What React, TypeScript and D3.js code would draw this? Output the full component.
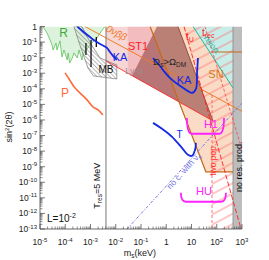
import React from 'react';
import * as d3 from 'd3';

type Pt = [number, number];

// axis ticks
const xDecades = [-5, -4, -3, -2, -1, 0, 1, 2, 3];
const yDecades = [0, -1, -2, -3, -4, -5, -6, -7, -8, -9, -10, -11, -12, -13];

// R (reactor) excluded region, lower edge
const rEdge: Pt[] = [
    [1.3e-5, 1], [1.9e-5, 0.38], [2.5e-5, 0.135], [3.0e-5, 0.065], [3.3e-5, 0.031],
    [4.3e-5, 0.087], [4.7e-5, 0.031], [6.2e-5, 0.12], [7.4e-5, 0.011], [8.9e-5, 0.031],
    [1.2e-4, 7.1e-3], [1.3e-4, 0.02], [1.5e-4, 4.6e-3], [1.9e-4, 9.5e-3], [2.2e-4, 0.02],
    [3.0e-4, 9.5e-3], [3.5e-4, 0.031], [4.6e-4, 7.1e-3], [5.0e-4, 0.015], [6.6e-4, 0.031],
    [7.9e-4, 0.042], [1.1e-3, 0.087], [1.8e-3, 0.18], [2.4e-3, 0.38], [3.7e-3, 1]
];
const mbRegion: Pt[] = [
    [2.2e-4, 1], [4.6e-4, 1], [1.1e-3, 0.065], [2.4e-3, 9.5e-3], [0.011, 3.4e-3],
    [0.011, 4.3e-4], [1.3e-3, 6.7e-4], [7.9e-4, 2.2e-3], [3.8e-4, 0.065]
];
// mass, low, high
const mbBars: [number, number, number][] = [
    [6.6e-4, 0.015, 0.087], [1.05e-3, 2.5e-3, 0.135], [1.7e-3, 0.049, 0.21]
];
const pCurve: Pt[] = [
    [9.8e-5, 1.05e-3], [1.5e-4, 3.7e-4], [2.4e-4, 1.15e-4], [3.8e-4, 5.5e-5],
    [7.3e-4, 1.95e-5], [1.25e-3, 6.9e-6], [2.0e-3, 4.5e-6], [3.1e-3, 2.1e-6]
];
const kaLow: Pt[] = [
    [3.0e-4, 1], [6.0e-4, 0.38], [9.5e-4, 0.21], [1.5e-3, 0.12], [2.4e-3, 0.076],
    [4.5e-3, 0.042], [5.9e-3, 0.023], [7.8e-3, 0.013], [0.011, 7.1e-3]
];
const kaHigh: Pt[] = [
    [0.30, 9.5e-3], [0.56, 2.9e-3], [1.4, 5e-4], [4.6, 1.15e-4], [10.5, 5.5e-5],
    [15, 1e-4], [16.6, 1.05e-3], [18, 9.5e-3]
];
const tCurve: Pt[] = [
    [0.30, 6.5e-7], [0.68, 2.7e-7], [1.7, 8.3e-8], [4.2, 1.6e-8], [7.2, 5.8e-9],
    [10.5, 5e-9], [13.8, 1.2e-8], [15, 3.4e-8]
];
const lyaRegion: Pt[] = [[4.1e-3, 1], [2.92, 1], [71, 8.7e-7], [4.1e-3, 6.1e-3]];
const st1Region: Pt[] = [[0.03, 1], [2.92, 1], [71, 8.7e-7], [0.03, 1e-3]];
const st1Edge: Pt[] = [[4.1e-3, 6.1e-3], [71, 8.7e-7]];
const omegaRegion: Pt[] = [[0.43, 1], [2.92, 1], [71, 8.7e-7], [0.044, 6.7e-4]];
const snRegion: Pt[] = [[0.23, 1], [440, 1], [440, 4.7e-10], [37, 4.7e-10]];
const snEdge: Pt[] = [[0.23, 1], [37, 4.7e-10], [440, 4.7e-10]];
const snTop: Pt[] = [[60, 0.023], [1000, 0.023]];
const reionRegion: Pt[] = [[11.5, 1], [440, 1], [440, 1.15e-4]];
const reionEdge: Pt[] = [[11.5, 1], [440, 1.15e-4]];
const hatchRegion: Pt[] = [[5.05, 1], [440, 1], [440, 1e-13], [65, 1e-13], [65, 4.2e-7]];
const zeroNuBB: Pt[] = [[6e-4, 1], [1000, 3.6e-6]];
const tULine: Pt[] = [[5.05, 1], [913, 1e-13]];
const tRecLine: Pt[] = [[34, 1], [1000, 1.2e-8]];
const twoPopLine: Pt[] = [[65, 4e-5], [65, 1e-13]];
const noCLine: Pt[] = [[0.028, 1e-13], [1000, 1.2e-5]];
const tResMass = 4.1e-3;
const noResMass = 440;
// brackets: [m1, m2, sTop, sBottom]
const h1Bracket = [6.6, 194, 1.36e-6, 1.3e-7];
const huBracket = [3.8, 232, 2.1e-11, 5.6e-12];

const W = 269, H = 260;
const x = d3.scaleLog().domain([1e-5, 1e3]).range([40, 242]);
const y = d3.scaleLog().domain([1e-13, 1]).range([229, 26.5]);
const line = d3.line<Pt>().x(d => x(d[0])).y(d => y(d[1]));
const smooth = d3.line<Pt>().curve(d3.curveCatmullRom).x(d => x(d[0])).y(d => y(d[1]));
const poly = (p: Pt[]) => line(p) + 'Z';

const font = '"Liberation Sans", Arial, sans-serif';

function bracket(b: number[]) {
    var x1 = x(b[0]), x2 = x(b[1]), yt = y(b[2]), yb = y(b[3]);
    return 'M' + x1 + ',' + yt + ' Q' + x1 + ',' + yb + ' ' + (x1 + 5) + ',' + yb +
        ' L' + (x2 - 5) + ',' + yb + ' Q' + x2 + ',' + yb + ' ' + x2 + ',' + yt;
}

function Pow({ e }: { e: number }) {
    if (e === 0) return <>1</>;
    if (e === 1) return <>10</>;
    return <>10<tspan dy={-3.5} fontSize={6}>{e}</tspan></>;
}

export default function App() {
    var minorX: number[] = [], minorY: number[] = [];
    xDecades.slice(0, -1).forEach(d => { for (var k = 2; k < 10; k++) minorX.push(k * Math.pow(10, d)); });
    yDecades.slice(1).forEach(d => { for (var k = 2; k < 10; k++) minorY.push(k * Math.pow(10, d)); });

    return (
        <svg width={W} height={H} style={{ position: 'absolute', left: 0, top: 0, background: '#fff' }} fontFamily={font}>
            <defs>
                <clipPath id="plot"><rect x={40} y={26.5} width={202} height={202.5} /></clipPath>
                <pattern id="redHatch" width={9} height={9} patternUnits="userSpaceOnUse" patternTransform="rotate(-28)">
                    <line x1={0} y1={1} x2={9} y2={1} stroke="#ff7070" strokeWidth={0.8} />
                </pattern>
                <pattern id="mbHatch" width={3} height={3} patternUnits="userSpaceOnUse" patternTransform="rotate(45)">
                    <line x1={0} y1={0.5} x2={3} y2={0.5} stroke="#8a8a8a" strokeWidth={0.6} />
                </pattern>
            </defs>
            <g clipPath="url(#plot)">
                <path d={poly(rEdge)} fill="#dcf2dc" />
                <path d={line(rEdge)} fill="none" stroke="#5cbf5c" strokeWidth={0.8} />
                <path d={poly(lyaRegion)} fill="#f7d6d6" />
                <path d={poly(st1Region)} fill="rgba(235,140,150,0.35)" />
                <path d={poly(snRegion)} fill="rgba(249,214,188,0.85)" />
                <path d={poly(reionRegion)} fill="rgba(190,240,238,0.85)" />
                <path d={poly(omegaRegion)} fill="rgba(125,45,45,0.5)" />
                <path d={poly(hatchRegion)} fill="url(#redHatch)" />
                <rect x={x(noResMass)} y={26.5} width={x(1e3) - x(noResMass)} height={202.5} fill="#bdbdbd" />
                <line x1={x(noResMass)} x2={x(noResMass)} y1={26.5} y2={229} stroke="#888" strokeWidth={0.8} />
                <path d={poly(mbRegion)} fill="url(#mbHatch)" stroke="#777" strokeWidth={0.7} />
                {mbBars.map((b, i) => (
                    <line key={i} x1={x(b[0])} x2={x(b[0])} y1={y(b[1])} y2={y(b[2])} stroke="#111" strokeWidth={1.3} />
                ))}
                <path d={line(st1Edge)} fill="none" stroke="#ff3030" strokeWidth={0.9} />
                <path d={line([omegaRegion[1], omegaRegion[2]])} fill="none" stroke="#8a3a2a" strokeWidth={0.8} />
                <path d={line(snEdge)} fill="none" stroke="#c46a1a" strokeWidth={1.2} />
                <path d={line(snTop)} fill="none" stroke="#c46a1a" strokeWidth={1.2} />
                <path d={line(reionEdge)} fill="none" stroke="#1fb5a0" strokeWidth={1} />
                <path d={line(zeroNuBB)} fill="none" stroke="#f07a28" strokeWidth={1} />
                <path d={line(tULine)} fill="none" stroke="#ff2020" strokeWidth={0.9} strokeDasharray="5,2" />
                <path d={line(tRecLine)} fill="none" stroke="#ff4040" strokeWidth={0.8} strokeDasharray="3,2" />
                <path d={line(twoPopLine)} fill="none" stroke="#ff5050" strokeWidth={0.8} strokeDasharray="3,2" />
                <path d={line(noCLine)} fill="none" stroke="#6a6ae0" strokeWidth={0.9} strokeDasharray="3,1.5,1,1.5" />
                <line x1={x(tResMass)} x2={x(tResMass)} y1={26.5} y2={229} stroke="#777" strokeWidth={1} />
                <path d={smooth(pCurve)} fill="none" stroke="#ff6a3d" strokeWidth={1.6} />
                <path d={smooth(kaLow)} fill="none" stroke="#1428e6" strokeWidth={1.8} />
                <path d={smooth(kaHigh)} fill="none" stroke="#1428e6" strokeWidth={1.8} />
                <path d={smooth(tCurve)} fill="none" stroke="#1428e6" strokeWidth={1.8} />
                <path d={bracket(h1Bracket)} fill="none" stroke="#ff22ff" strokeWidth={1.8} />
                <path d={bracket(huBracket)} fill="none" stroke="#ff22ff" strokeWidth={1.8} />
            </g>

            {/* labels */}
            <text x={x(8.5e-5)} y={y(0.21)} fontSize={12} fill="#3aaa3a" textAnchor="middle">R</text>
            <text x={x(9.8e-5)} y={y(3e-5)} fontSize={12} fill="#ff6a3d" textAnchor="middle">P</text>
            <text x={x(4.1e-3)} y={y(1.05e-3)} fontSize={10} fill="#111" textAnchor="middle">MB</text>
            <text x={x(0.0148)} y={y(6.1e-3)} fontSize={11} fill="#1428e6" textAnchor="middle">KA</text>
            <text x={x(0.076)} y={y(0.031)} fontSize={11} fill="#ff2020" textAnchor="middle">ST1</text>
            <text x={x(0.053)} y={y(9.1e-4)} fontSize={9} fill="#a08c8c" textAnchor="middle">Ly-α</text>
            <text transform={'translate(' + x(9.3e-3) + ',' + y(0.25) + ') rotate(28)'} fontSize={10} fill="#f07a28" fontStyle="italic" textAnchor="middle">0νββ</text>
            <text x={x(0.3)} y={y(3.4e-3)} fontSize={9.5} fill="#222">Ω<tspan dy={2} fontSize={6.5}>s</tspan><tspan dy={-2}>&gt;Ω</tspan><tspan dy={2} fontSize={6.5}>DM</tspan></text>
            <text x={x(5.05)} y={y(2.05e-4)} fontSize={11} fill="#1428e6" textAnchor="middle">KA</text>
            <text x={x(6.0)} y={y(0.136)} fontSize={10} fill="#ff2020">t<tspan dy={2} fontSize={7}>U</tspan></text>
            <text x={x(26)} y={y(0.25)} fontSize={10} fill="#ff2020">t<tspan dy={2} fontSize={7}>rec</tspan></text>
            <text transform={'translate(' + x(54) + ',' + y(0.049) + ') rotate(52)'} fontSize={8.5} fill="#1fb5a0" fontStyle="italic" textAnchor="middle">reion.</text>
            <text x={x(93)} y={y(5e-4)} fontSize={11} fill="#d07a1a" textAnchor="middle">SN</text>
            <text x={x(59)} y={y(3.1e-7)} fontSize={11} fill="#ff22ff" textAnchor="middle">H1</text>
            <text x={x(31)} y={y(1.6e-11)} fontSize={11} fill="#ff22ff" textAnchor="middle">HU</text>
            <text x={x(3.35)} y={y(7.1e-8)} fontSize={10} fill="#1428e6" textAnchor="middle">T</text>
            <text transform={'translate(' + x(93) + ',' + y(2.8e-9) + ') rotate(-90)'} fontSize={8.5} fill="#ff3030" textAnchor="middle">two pop.</text>
            <text transform={'translate(' + x(760) + ',' + y(1e-9) + ') rotate(-90)'} fontSize={9} fill="#111" textAnchor="middle" dy={3}>no res. prod.</text>
            <text transform={'translate(' + x(6.0) + ',' + y(4.1e-10) + ') rotate(-48)'} fontSize={8.5} fill="#7070e0" textAnchor="middle">no c. with ν<tspan dy={2} fontSize={6}>e</tspan></text>
            <text transform={'translate(' + x(1.8e-3) + ',' + y(6e-11) + ') rotate(-90)'} fontSize={9} fill="#111" textAnchor="middle" dy={3}>T<tspan dy={2} fontSize={6.5}>res</tspan><tspan dy={-2}>=5 MeV</tspan></text>
            <text x={x(1.9e-5)} y={y(2.9e-13)} fontSize={10} fill="#111">L=10<tspan dy={-4} fontSize={7}>-2</tspan></text>

            {/* axes */}
            <line x1={40} x2={242} y1={229} y2={229} stroke="#444" strokeWidth={0.8} />
            <line x1={40} x2={40} y1={26.5} y2={229} stroke="#444" strokeWidth={0.8} />
            {minorX.map((v, i) => <line key={'mx' + i} x1={x(v)} x2={x(v)} y1={229} y2={226.5} stroke="#444" strokeWidth={0.6} />)}
            {xDecades.map(d => <line key={'Mx' + d} x1={x(Math.pow(10, d))} x2={x(Math.pow(10, d))} y1={229} y2={224} stroke="#444" strokeWidth={0.7} />)}
            {minorY.map((v, i) => <line key={'my' + i} x1={40} x2={42.5} y1={y(v)} y2={y(v)} stroke="#444" strokeWidth={0.6} />)}
            {yDecades.map(d => <line key={'My' + d} x1={40} x2={45} y1={y(Math.pow(10, d))} y2={y(Math.pow(10, d))} stroke="#444" strokeWidth={0.7} />)}
            {xDecades.map(d => (
                <text key={'lx' + d} x={x(Math.pow(10, d))} y={245} fontSize={8.5} fill="#222" textAnchor="middle"><Pow e={d} /></text>
            ))}
            {yDecades.map(d => (
                <text key={'ly' + d} x={37} y={y(Math.pow(10, d)) + 3} fontSize={8.5} fill="#222" textAnchor="end"><Pow e={d} /></text>
            ))}
            <text transform="translate(12,127) rotate(-90)" fontSize={9} fill="#222" textAnchor="middle">sin<tspan dy={-3.5} fontSize={6}>2</tspan><tspan dy={3.5}>(2θ)</tspan></text>
            <text x={140} y={256} fontSize={9} fill="#222" textAnchor="middle">m<tspan dy={2} fontSize={6.5}>s</tspan><tspan dy={-2}>(keV)</tspan></text>
        </svg>
    );
}
